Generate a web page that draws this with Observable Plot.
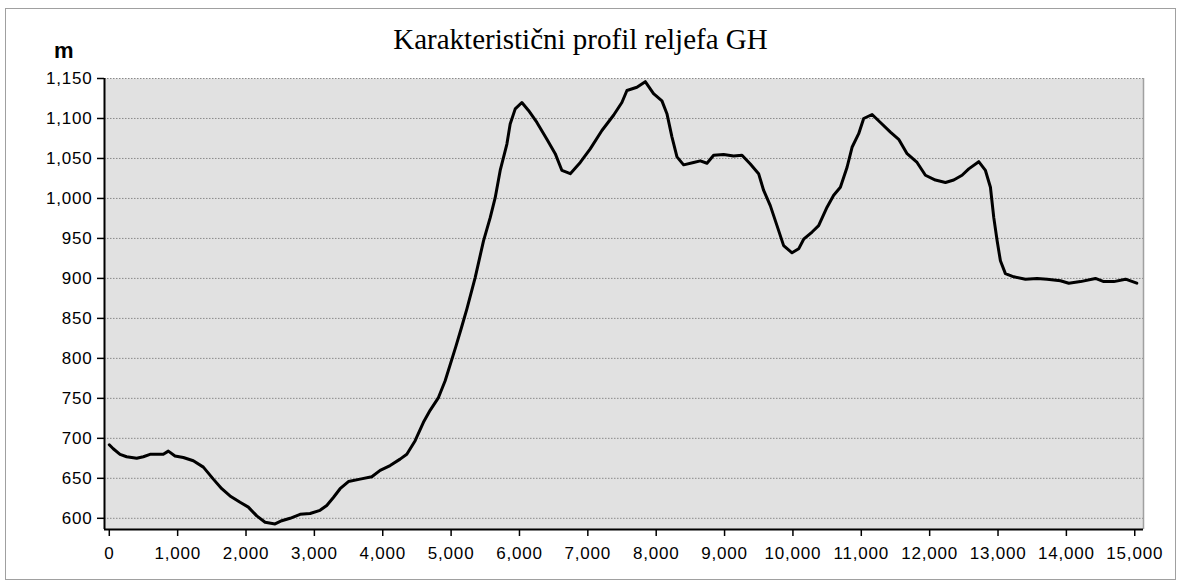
<!DOCTYPE html>
<html>
<head>
<meta charset="utf-8">
<script src="https://cdn.jsdelivr.net/npm/d3@7"></script>
<script src="https://cdn.jsdelivr.net/npm/@observablehq/plot@0.6"></script>
<style>
  html, body { margin: 0; padding: 0; background: #fff; }
  #wrap { position: relative; width: 1178px; height: 583px; overflow: hidden; }
  #border { position: absolute; left: 5px; top: 8px; width: 1171px; height: 572px; border: 1px solid #a0a0a0; box-sizing: border-box; }
  #title { position: absolute; left: 0; width: 1161px; top: 22px; text-align: center; font-family: "Liberation Serif", "Times New Roman", serif; font-size: 29px; line-height: 34px; color: #000; }
  #ylab { position: absolute; left: 54px; top: 38px; font-family: "Liberation Sans", Arial, sans-serif; font-weight: bold; font-size: 22px; line-height: 26px; color: #000; }
  #chart { position: absolute; left: 0; top: 0; }
  #chart svg text { letter-spacing: 0.8px; }
</style>
</head>
<body>
<div id="wrap">
  <div id="border"></div>
  <div id="title">Karakteristični profil reljefa GH</div>
  <div id="ylab">m</div>
  <div id="chart"></div>
</div>
<script>
const distance = [0, 58, 157, 254, 401, 498, 596, 790, 864, 961, 1083, 1229, 1376, 1522, 1645, 1766, 1913, 2034, 2157, 2279, 2425, 2523, 2645, 2791, 2937, 3083, 3181, 3278, 3376, 3498, 3669, 3840, 3962, 4108, 4254, 4352, 4474, 4595, 4693, 4815, 4913, 5070, 5150, 5231, 5352, 5474, 5572, 5645, 5718, 5816, 5864, 5938, 6035, 6132, 6255, 6401, 6523, 6621, 6743, 6889, 7035, 7206, 7376, 7498, 7572, 7718, 7840, 7961, 8084, 8157, 8230, 8304, 8401, 8547, 8645, 8743, 8840, 8986, 9132, 9255, 9377, 9498, 9572, 9669, 9767, 9864, 9987, 10084, 10157, 10280, 10376, 10499, 10596, 10694, 10792, 10865, 10962, 11035, 11158, 11280, 11426, 11547, 11670, 11816, 11938, 12084, 12231, 12352, 12474, 12572, 12718, 12816, 12889, 12938, 12987, 13035, 13108, 13230, 13401, 13572, 13718, 13913, 14035, 14206, 14425, 14547, 14694, 14865, 15030];
const elevation = [692, 687, 680, 677, 675, 677, 680, 680, 684, 678, 676, 672, 664, 649, 637, 628, 620, 614, 603, 595, 593, 597, 600, 605, 606, 610, 616, 626, 637, 646, 649, 652, 660, 666, 674, 680, 697, 720, 735, 751, 772, 815, 838, 862, 901, 947, 976, 1001, 1035, 1068, 1093, 1112, 1120, 1110, 1095, 1074, 1056, 1035, 1031, 1045, 1062, 1085, 1104, 1120, 1135, 1139, 1146, 1131, 1122, 1106, 1077, 1052, 1042, 1045, 1047, 1044, 1054, 1055, 1053, 1054, 1043, 1031, 1010, 991, 966, 941, 932, 937, 949, 958, 966, 989, 1004, 1014, 1039, 1064, 1081, 1100, 1105, 1095, 1083, 1074, 1056, 1045, 1029, 1023, 1020, 1023, 1029, 1037, 1046, 1035, 1014, 976, 947, 922, 906, 902, 899, 900, 899, 897, 894, 896, 900, 896, 896, 899, 894];
const xTicks = [0, 1000, 2000, 3000, 4000, 5000, 6000, 7000, 8000, 9000, 10000, 11000, 12000, 13000, 14000, 15000];
const yTicks = [600, 650, 700, 750, 800, 850, 900, 950, 1000, 1050, 1100, 1150];

const profile = distance.map((d, i) => ({distance: d, elevation: elevation[i]}));
const fmt = d3.format(",");
const xMin = -70, xMax = 15128, yMin = 586, yMax = 1150;

const chart = Plot.plot({
  width: 1178,
  height: 583,
  marginLeft: 104,
  marginRight: 35,
  marginTop: 78,
  marginBottom: 54,
  style: {fontFamily: "'Liberation Sans', Arial, sans-serif", fontSize: "17px", color: "#000", background: "transparent"},
  x: {domain: [xMin, xMax]},
  y: {domain: [yMin, yMax]},
  marks: [
    Plot.frame({fill: "#e1e1e1", stroke: null}),
    Plot.gridY(yTicks, {stroke: "#8a8a8a", strokeOpacity: 1, strokeDasharray: "1.5,1.5", strokeWidth: 1}),
    Plot.ruleX([xMax], {stroke: "#a0a0a0", strokeWidth: 1.5}),
    Plot.line(profile, {x: "distance", y: "elevation", stroke: "#000", strokeWidth: 3, strokeLinejoin: "round"}),
    Plot.ruleX([xMin], {stroke: "#000", strokeWidth: 2}),
    Plot.ruleY([yMin], {stroke: "#000", strokeWidth: 2}),
    Plot.axisX({ticks: xTicks, tickFormat: fmt, tickSize: 7, tickPadding: 10, stroke: "#000", strokeWidth: 1.5, fontSize: 17, label: null}),
    Plot.axisY({ticks: yTicks, tickFormat: fmt, tickSize: 7, tickPadding: 5, stroke: "#000", strokeWidth: 1.5, fontSize: 17, label: null})
  ]
});
document.getElementById("chart").appendChild(chart);
</script>
</body>
</html>
